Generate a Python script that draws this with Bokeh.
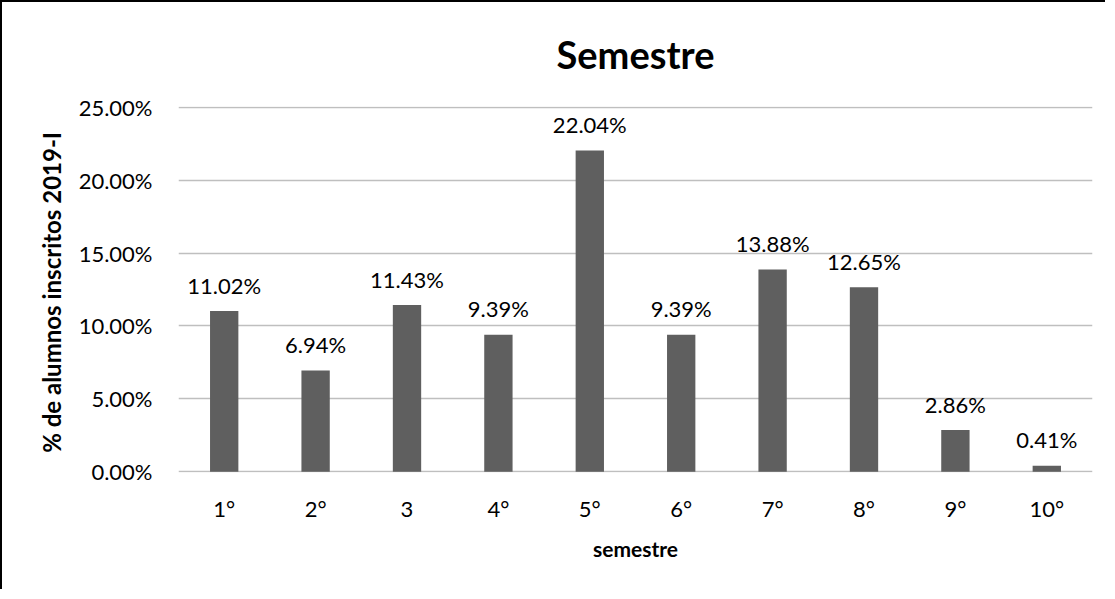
from bokeh.plotting import figure
from bokeh.models import Range1d, NumeralTickFormatter, FixedTicker, ColumnDataSource
from bokeh.core.properties import value
from bokeh.embed import file_html
from bokeh.resources import INLINE

title_text = "Semestre"
categories = ["1°", "2°", "3", "4°", "5°", "6°", "7°", "8°", "9°", "10°"]
percentages = [0.1102, 0.0694, 0.1143, 0.0939, 0.2204, 0.0939, 0.1388, 0.1265, 0.0286, 0.0041]
label_texts = ["11.02%", "6.94%", "11.43%", "9.39%", "22.04%", "9.39%", "13.88%", "12.65%", "2.86%", "0.41%"]
y_ticks = [0.0, 0.05, 0.10, 0.15, 0.20, 0.25]

positions = list(range(1, len(categories) + 1))
src = ColumnDataSource(dict(x=positions, top=percentages, lbl=label_texts))

FONT = "Lato"

p = figure(width=1105, height=589, output_backend="svg", toolbar_location=None,
           x_range=Range1d(0.5, len(categories) + 0.5), y_range=Range1d(-0.0005, 0.2505),
           min_border_left=176, min_border_right=15, min_border_top=104, min_border_bottom=119)
p.styles = {"border-top": "2px solid black", "border-left": "2px solid black"}
p.outline_line_color = None
p.background_fill_color = "white"
p.border_fill_color = "white"

p.title.text = title_text
p.title.align = "center"
p.title.vertical_align = "top"
p.title.text_font = FONT
p.title.text_font_size = "38px"
p.title.text_font_style = "bold"
p.title.text_color = "black"
p.title.standoff = 56

p.vbar(x="x", top="top", width=0.31, source=src, fill_color="#5f5f5f", line_color=None)
p.text(x="x", y="top", text="lbl", source=src, text_align="center", text_baseline="alphabetic",
       y_offset=-26, text_font=value(FONT), text_font_size="22px", text_color="black")

p.xgrid.grid_line_color = None
p.ygrid.grid_line_color = "#bfbfbf"
p.ygrid.grid_line_width = 1.5
p.yaxis.ticker = FixedTicker(ticks=y_ticks)
p.yaxis.formatter = NumeralTickFormatter(format="0.00%")
p.xaxis.ticker = FixedTicker(ticks=positions)
p.xaxis.major_label_overrides = {i: c for i, c in zip(positions, categories)}

for ax in (p.xaxis[0], p.yaxis[0]):
    ax.axis_line_color = None
    ax.major_tick_line_color = None
    ax.minor_tick_line_color = None
    ax.major_tick_out = 0
    ax.major_tick_in = 0
    ax.major_label_text_font = FONT
    ax.major_label_text_font_size = "22px"
    ax.major_label_text_color = "black"
    ax.axis_label_text_font = FONT
    ax.axis_label_text_font_style = "bold"
    ax.axis_label_text_color = "black"

p.yaxis.axis_label = "% de alumnos  inscritos 2019-I"
p.yaxis.axis_label_text_font_size = "24px"
p.yaxis.major_label_standoff = 26
p.yaxis.axis_label_standoff = 10
p.xaxis.axis_label = "semestre"
p.xaxis.axis_label_text_font_size = "21px"
p.xaxis.major_label_standoff = 22
p.xaxis.axis_label_standoff = 11

open("out.html", "w").write(file_html(p, INLINE))
